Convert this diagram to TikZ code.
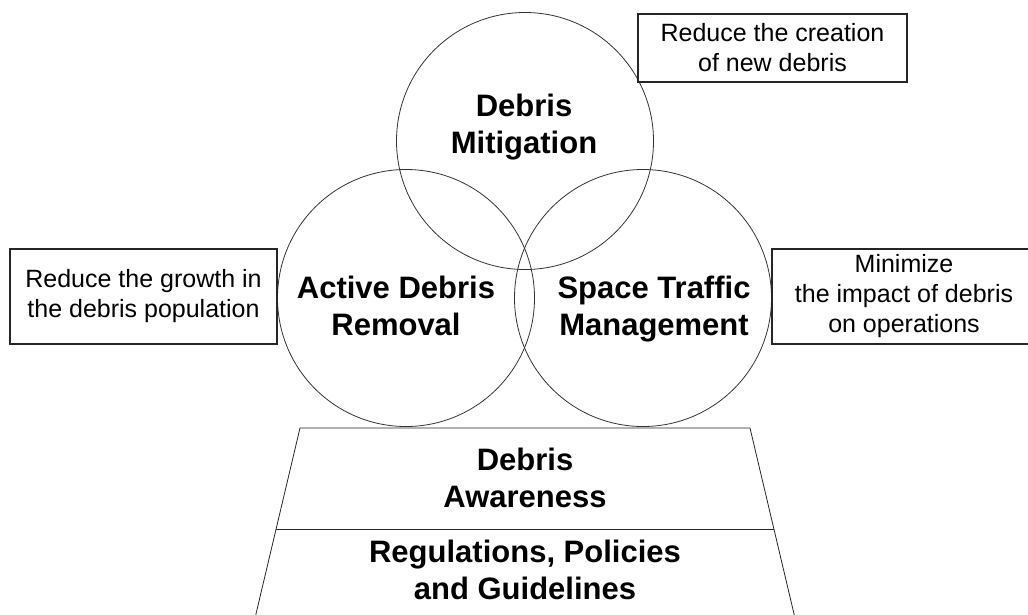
\documentclass[tikz,border=0pt]{standalone}
\usepackage{fontspec}
\setmainfont{Liberation Sans}

\begin{document}
\begin{tikzpicture}[x=1pt,y=-1pt,
  ring/.style={circle,draw=black!80,line width=0.8pt,minimum size=257pt,inner sep=0pt},
  goal/.style={rectangle,draw=black!85,line width=1.1pt,align=center,inner sep=0pt,font=\fontsize{25}{30}\selectfont},
  area/.style={align=center,inner sep=0pt,font=\bfseries\fontsize{31}{37}\selectfont}]
\useasboundingbox (0,0) rectangle (1028,614);

% the three overlapping areas
\node[ring] (M) at (525,141) {};
\node[ring] (A) at (406,298) {};
\node[ring] (S) at (643,298) {};

\node[area] (tM) at (524,127) {Debris\\Mitigation};
\node[area] (tA) at (396,306) {Active Debris\\Removal};
\node[area] (tS) at (654,309.5) {Space Traffic\\Management};

% base they stand on
\draw[line width=0.8pt,draw=black!85] (255.5,616) -- (300,428) -- (750,428) -- (794.5,616);
\draw[line width=0.8pt,draw=black!85] (276,529) -- (774,529);
\node[area] (aware) at (525,478) {Debris\\Awareness};
\node[area] (rules) at (525,570) {Regulations, Policies\\and Guidelines};

% what each area is for
\node[goal,minimum width=269pt,minimum height=68pt] (gM) at (772.5,48) {Reduce the creation\\of new debris};
\node[goal,minimum width=267pt,minimum height=95pt] (gA) at (143.5,296.5) {Reduce the growth in\\the debris population};
\node[goal,minimum width=264pt,minimum height=95pt] (gS) at (904,296.5) {Minimize\\the impact of debris\\on operations};

\end{tikzpicture}
\end{document}
